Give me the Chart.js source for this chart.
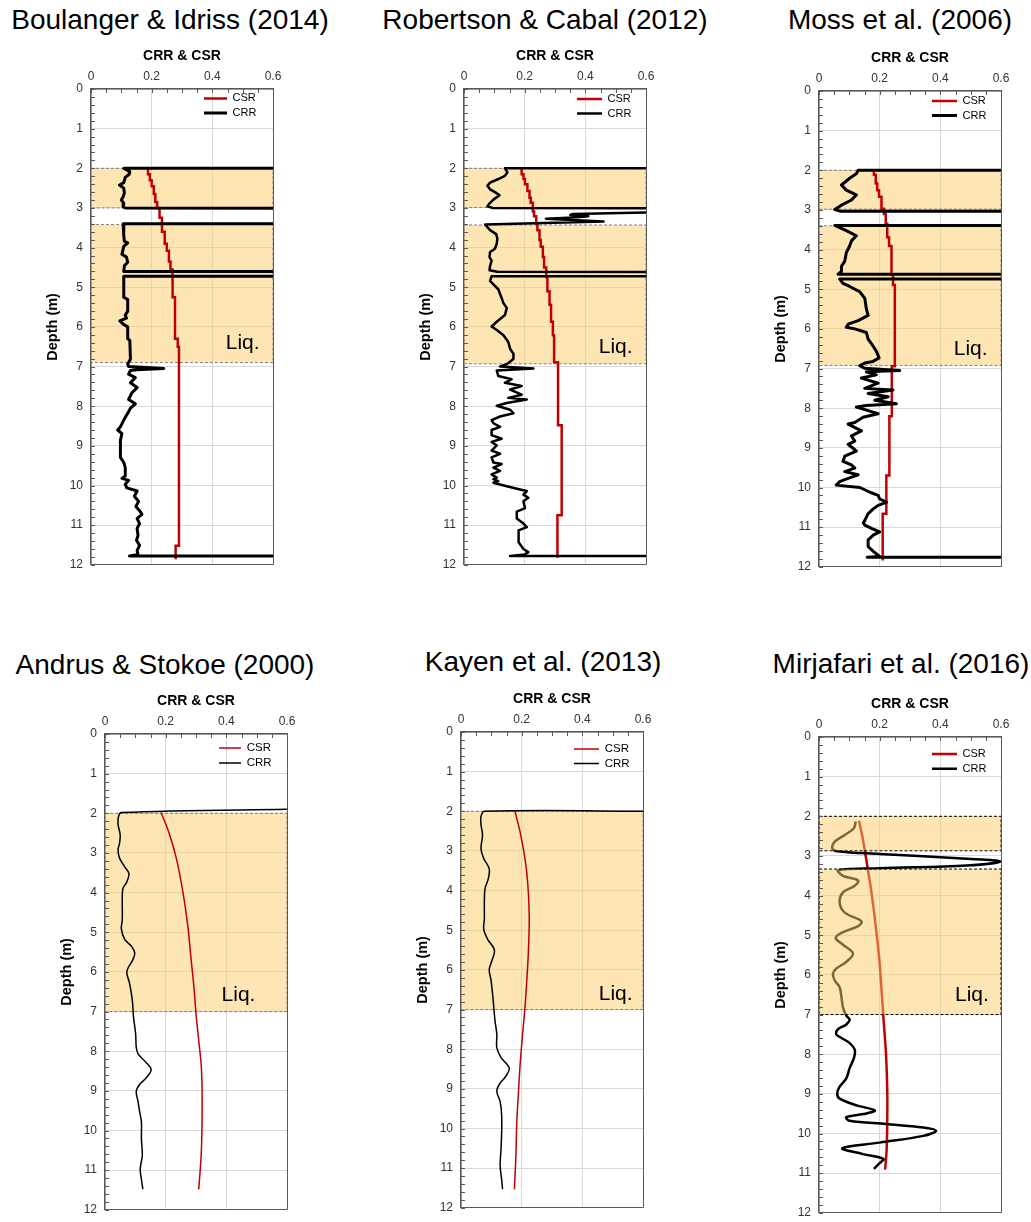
<!DOCTYPE html>
<html>
<head>
<meta charset="utf-8">
<script src="https://cdn.jsdelivr.net/npm/chart.js@4.4.1/dist/chart.umd.min.js"></script>
<style>
html,body{margin:0;padding:0;background:#fff;overflow:hidden;width:1031px;height:1222px;}
.title{position:absolute;font-family:'Liberation Sans',Arial,Helvetica,sans-serif;font-size:28px;line-height:28px;color:#000;white-space:nowrap;transform:translateX(-50%);}
.panel{position:absolute;}
.panel canvas{display:block;}
</style>
</head>
<body>
<script>
// ---------------- DATA ----------------
const OFF = 2; // CRR beyond the axis (non-liquefiable layer)
const seriesNames = ['CSR', 'CRR'];
const panelTitles = ['Boulanger & Idriss (2014)', 'Robertson & Cabal (2012)', 'Moss et al. (2006)',
                     'Andrus & Stokoe (2000)', 'Kayen et al. (2013)', 'Mirjafari et al. (2016)'];
const xAxisTitle = 'CRR & CSR';
const yAxisTitle = 'Depth (m)';
const liqText = 'Liq.';
const xTicks = [0, 0.2, 0.4, 0.6];
const yTicks = [0, 1, 2, 3, 4, 5, 6, 7, 8, 9, 10, 11, 12];

// [depth, value] pairs
const p1Csr = [[2.0,0.188],[2.15,0.194],[2.3,0.2],[2.45,0.207],[2.65,0.212],[2.85,0.218],[3.0,0.226],[3.25,0.234],[3.6,0.243],[3.9,0.25],[4.08,0.257],[4.35,0.262],[4.55,0.269],[5.25,0.277],[6.3,0.286],[6.5,0.29],[11.52,0.279],[11.86,0.279]];
const p1Crr = [[2.0,OFF],[2.0,0.108],[2.08,0.128],[2.15,0.126],[2.23,0.113],[2.36,0.108],[2.42,0.094],[2.5,0.108],[2.62,0.11],[2.72,0.106],[2.8,0.1],[2.88,0.108],[2.97,0.106],[3.0,0.113],[3.02,OFF],
  [3.4,OFF],[3.4,0.106],[3.7,0.108],[3.84,0.11],[3.88,0.121],[3.97,0.108],[4.17,0.102],[4.24,0.117],[4.37,0.121],[4.46,0.11],[4.6,0.108],[4.62,OFF],
  [4.72,OFF],[4.72,0.108],[5.25,0.108],[5.31,0.121],[5.61,0.121],[5.7,0.113],[5.78,0.117],[5.85,0.095],[5.94,0.108],[6.0,0.121],[6.3,0.121],[6.34,0.128],[6.81,0.13],[6.94,0.121],[7.0,0.124],[7.05,0.24],[7.08,0.15],[7.1,0.13],
  [7.19,0.124],[7.28,0.146],[7.41,0.13],[7.53,0.152],[7.66,0.135],[7.83,0.124],[7.94,0.146],[8.05,0.13],[8.18,0.121],[8.35,0.108],[8.52,0.097],[8.6,0.088],[8.69,0.102],[8.86,0.097],[9.29,0.097],[9.42,0.108],[9.55,0.113],[9.76,0.113],[9.82,0.102],[9.87,0.124],[9.97,0.113],[10.06,0.118],
  [10.14,0.152],[10.27,0.143],[10.4,0.157],[10.53,0.148],[10.66,0.163],[10.73,0.168],[10.83,0.152],[10.96,0.16],[11.08,0.152],[11.26,0.155],[11.38,0.15],[11.51,0.16],[11.64,0.152],[11.74,0.155],[11.78,0.127],[11.78,OFF]];
const p1Bands = [[2.0,3.0],[3.42,6.9]];

const p2Csr = [[2.0,0.19],[2.15,0.196],[2.27,0.201],[2.4,0.209],[2.57,0.216],[2.74,0.22],[2.87,0.227],[3.09,0.231],[3.21,0.238],[3.39,0.242],[3.56,0.249],[3.81,0.253],[3.98,0.26],[4.24,0.264],[4.5,0.271],[4.75,0.275],[5.1,0.282],[5.44,0.287],[5.87,0.293],[6.21,0.297],[6.89,0.31],[8.48,0.322],[10.75,0.308],[11.82,0.308]];
const p2Crr = [[2.0,OFF],[2.0,0.135],[2.1,0.143],[2.19,0.135],[2.27,0.113],[2.36,0.086],[2.44,0.077],[2.53,0.086],[2.62,0.106],[2.68,0.117],[2.79,0.097],[2.87,0.086],[2.96,0.077],[3.0,0.095],[3.04,OFF],[3.09,0.75],
  [3.15,0.36],[3.18,0.35],[3.21,0.41],[3.24,0.36],[3.27,0.27],[3.34,0.46],[3.42,0.07],[3.56,0.086],[3.66,0.106],[3.77,0.11],[3.9,0.108],[4.03,0.102],[4.11,0.086],[4.24,0.084],[4.33,0.091],[4.46,0.086],[4.57,0.084],[4.61,0.11],[4.63,OFF],
  [4.72,OFF],[4.72,0.091],[4.84,0.086],[4.93,0.097],[5.05,0.113],[5.27,0.124],[5.4,0.13],[5.52,0.141],[5.7,0.135],[5.87,0.108],[5.99,0.091],[6.08,0.108],[6.21,0.13],[6.38,0.146],[6.55,0.152],[6.68,0.163],[6.81,0.163],[6.94,0.141],[7.0,0.119],[7.05,0.229],[7.1,0.108],
  [7.24,0.113],[7.32,0.157],[7.41,0.135],[7.49,0.19],[7.58,0.152],[7.71,0.19],[7.79,0.146],[7.83,0.207],[7.92,0.141],[7.99,0.108],[8.09,0.152],[8.18,0.163],[8.26,0.119],[8.35,0.091],[8.43,0.097],[8.52,0.119],[8.6,0.091],[8.73,0.091],[8.82,0.124],[8.9,0.091],[8.99,0.108],[9.12,0.091],[9.2,0.119],[9.29,0.091],[9.42,0.097],[9.46,0.124],[9.55,0.097],[9.63,0.119],[9.72,0.091],[9.8,0.108],[9.84,0.097],[9.89,0.113],[9.93,0.097],
  [10.02,0.141],[10.1,0.185],[10.14,0.207],[10.23,0.196],[10.31,0.212],[10.4,0.196],[10.57,0.201],[10.66,0.174],[10.83,0.174],[10.96,0.196],[11.05,0.207],[11.13,0.18],[11.43,0.18],[11.6,0.196],[11.68,0.212],[11.74,0.2],[11.78,0.152],[11.78,OFF]];
const p2Bands = [[2.0,2.99],[3.43,6.93]];

const p3Csr = [[2.0,0.181],[2.11,0.187],[2.33,0.192],[2.5,0.198],[2.67,0.206],[2.97,0.214],[3.1,0.22],[3.35,0.225],[3.69,0.231],[3.91,0.239],[4.63,0.244],[4.89,0.25],[6.94,0.24],[8.2,0.232],[9.7,0.222],[10.66,0.21],[11.84,0.21]];
const p3Crr = [[2.0,OFF],[2.0,0.129],[2.09,0.123],[2.2,0.101],[2.37,0.074],[2.5,0.09],[2.62,0.123],[2.75,0.107],[2.88,0.074],[2.99,0.052],[3.03,0.07],[3.03,OFF],
  [3.39,OFF],[3.39,0.052],[3.52,0.09],[3.65,0.123],[3.78,0.107],[3.91,0.101],[4.08,0.09],[4.29,0.085],[4.42,0.074],[4.55,0.074],[4.62,0.063],[4.63,OFF],
  [4.74,OFF],[4.74,0.068],[4.85,0.079],[4.93,0.101],[5.06,0.134],[5.23,0.151],[5.49,0.156],[5.66,0.162],[5.79,0.129],[5.88,0.096],[5.96,0.09],[6.0,0.118],[6.09,0.156],[6.26,0.162],[6.43,0.178],[6.56,0.189],[6.73,0.198],[6.82,0.178],[6.86,0.151],[6.93,0.134],[6.99,0.15],[7.05,0.266],[7.08,0.156],
  [7.16,0.189],[7.24,0.14],[7.37,0.195],[7.5,0.151],[7.54,0.244],[7.63,0.162],[7.71,0.228],[7.8,0.184],[7.89,0.255],[7.93,0.156],[7.97,0.123],[8.06,0.162],[8.14,0.195],[8.23,0.145],[8.36,0.118],[8.4,0.096],[8.57,0.14],[8.7,0.107],[8.83,0.118],[8.91,0.096],[9.08,0.123],[9.21,0.085],[9.34,0.079],[9.43,0.107],[9.51,0.118],[9.6,0.085],[9.68,0.129],[9.77,0.096],[9.85,0.068],[9.94,0.057],
  [10.0,0.135],[10.12,0.168],[10.2,0.195],[10.29,0.2],[10.37,0.223],[10.45,0.195],[10.54,0.179],[10.66,0.162],[10.83,0.151],[10.89,0.146],[10.95,0.151],[11.03,0.173],[11.12,0.2],[11.2,0.179],[11.32,0.162],[11.49,0.162],[11.61,0.179],[11.74,0.2],[11.76,0.159],[11.76,OFF]];
const p3Bands = [[2.0,2.98],[3.4,6.92]];

const p4Csr = [[1.98,0.185],[2.54,0.213],[3.13,0.235],[3.99,0.257],[4.84,0.273],[5.69,0.284],[6.37,0.293],[7.05,0.3],[7.73,0.309],[8.33,0.317],[8.93,0.32],[9.78,0.32],[10.63,0.317],[11.48,0.309]];
const p4Crr = [[1.893,0.65],[1.98,0.054],[2.07,0.045],[2.28,0.043],[2.54,0.05],[2.75,0.048],[2.92,0.043],[3.13,0.048],[3.35,0.065],[3.52,0.079],[3.73,0.072],[3.9,0.059],[4.24,0.057],[4.67,0.057],[4.92,0.054],[5.18,0.065],[5.35,0.087],[5.52,0.098],[5.69,0.092],[5.9,0.076],[6.03,0.072],[6.29,0.081],[6.71,0.09],[7.14,0.094],[7.56,0.101],[7.9,0.103],[8.07,0.109],[8.25,0.131],[8.46,0.152],[8.67,0.136],[8.84,0.114],[9.01,0.103],[9.27,0.109],[9.52,0.114],[9.78,0.12],[10.2,0.12],[10.63,0.123],[10.97,0.116],[11.23,0.12],[11.48,0.125]];
const p4Bands = [[2.0,7.0]];

const p5Csr = [[2.0,0.178],[2.6,0.197],[3.36,0.214],[4.04,0.222],[4.72,0.225],[5.57,0.222],[6.26,0.217],[6.94,0.211],[7.62,0.203],[8.38,0.195],[9.15,0.189],[9.83,0.184],[10.68,0.181],[11.53,0.176]];
const p5Crr = [[2.0,0.65],[2.0,0.077],[2.13,0.066],[2.34,0.066],[2.6,0.071],[2.94,0.066],[3.19,0.075],[3.45,0.093],[3.7,0.09],[3.96,0.079],[4.3,0.077],[4.72,0.077],[4.98,0.075],[5.23,0.088],[5.45,0.108],[5.57,0.11],[5.83,0.099],[6.0,0.093],[6.26,0.099],[6.6,0.104],[6.94,0.108],[7.28,0.112],[7.62,0.118],[7.96,0.118],[8.21,0.132],[8.47,0.159],[8.68,0.148],[8.89,0.126],[9.06,0.118],[9.32,0.129],[9.66,0.134],[10.09,0.134],[10.51,0.132],[10.94,0.129],[11.28,0.134],[11.53,0.137]];
const p5Bands = [[2.0,7.0]];

const p6Csr = [[2.11,0.132],[2.64,0.146],[3.24,0.159],[3.92,0.173],[4.77,0.187],[5.63,0.199],[6.48,0.207],[7.25,0.214],[8.01,0.221],[8.87,0.225],[9.72,0.225],[10.4,0.223],[10.91,0.218]];
const p6Crr = [[2.13,0.121],[2.3,0.115],[2.47,0.085],[2.64,0.052],[2.81,0.044],[2.88,0.06],[2.95,0.2],[3.07,0.487],[3.14,0.6],[3.24,0.487],[3.31,0.2],[3.36,0.063],[3.5,0.079],[3.62,0.129],[3.75,0.118],[3.92,0.079],[4.18,0.068],[4.43,0.085],[4.65,0.14],[4.77,0.129],[4.94,0.074],[5.07,0.055],[5.24,0.079],[5.46,0.112],[5.67,0.09],[5.84,0.057],[5.97,0.046],[6.14,0.052],[6.31,0.068],[6.56,0.074],[6.82,0.079],[7.03,0.09],[7.12,0.101],[7.25,0.09],[7.37,0.063],[7.5,0.057],[7.59,0.074],[7.72,0.101],[7.89,0.118],[8.1,0.115],[8.35,0.101],[8.61,0.09],[8.82,0.068],[8.99,0.06],[9.12,0.068],[9.29,0.124],[9.42,0.184],[9.51,0.146],[9.59,0.09],[9.68,0.101],[9.76,0.223],[9.85,0.344],[9.93,0.386],[10.06,0.344],[10.23,0.2],[10.37,0.077],[10.52,0.145],[10.64,0.212],[10.76,0.198],[10.89,0.181]];
const p6Bands = [[2.0,2.87],[3.33,7.0]];

// ---------------- STYLE / LAYOUT ----------------
const FONT = "'Liberation Sans', Arial, Helvetica, sans-serif";
Chart.defaults.font.family = FONT;
const X_MIN = 0, X_MAX = 0.6, Y_MIN = 0, Y_MAX = 12, X_MINOR = 0.05, Y_MINOR = 0.2;
const AXIS_COLOR = '#595959', GRID_COLOR = '#d9d9d9';
const CSR_COLOR = '#c00000', CRR_COLOR = '#000000';
const BAND_FILL = 'rgba(251,203,105,0.5)';
const AX_W = 47, PAD_L = 3, AX_H = 41, PAD_T = 1, PAD_R = 14, PAD_B = 8, PLOT_W = 182, PLOT_H = 483;

const panels = [
  {title: panelTitles[0], tx: 170, ty: 6, px: 91, py: 89, csr: p1Csr, crr: p1Crr, bands: p1Bands, stepped: true, tension: 0, lwCsr: 2.5, lwCrr: 3, bandTop: false, edge: '#7f7f7f', liq: [0.5, 6.42], lg: {font: 11, y: 9.4, end: 46, pad: 3.6, w: 23}},
  {title: panelTitles[1], tx: 545, ty: 6, px: 464, py: 89, csr: p2Csr, crr: p2Crr, bands: p2Bands, stepped: true, tension: 0, lwCsr: 2.5, lwCrr: 2.5, bandTop: false, edge: '#7f7f7f', liq: [0.5, 6.5], lg: {font: 11, y: 10, end: 44, pad: 3.6, w: 25}},
  {title: panelTitles[2], tx: 900, ty: 6, px: 819, py: 91, csr: p3Csr, crr: p3Crr, bands: p3Bands, stepped: true, tension: 0, lwCsr: 2.5, lwCrr: 3, bandTop: false, edge: '#7f7f7f', liq: [0.5, 6.52], lg: {font: 11, y: 10, end: 44, pad: 3.6, w: 25}},
  {title: panelTitles[3], tx: 165, ty: 651, px: 105, py: 734, csr: p4Csr, crr: p4Crr, bands: p4Bands, stepped: false, tension: 0.35, lwCsr: 1.5, lwCrr: 1.5, bandTop: false, edge: '#7f7f7f', liq: [0.44, 6.58], lg: {font: 11.5, y: 14, end: 46, pad: 3.5, w: 22}},
  {title: panelTitles[4], tx: 543, ty: 648, px: 461, py: 732, csr: p5Csr, crr: p5Crr, bands: p5Bands, stepped: false, tension: 0.35, lwCsr: 1.5, lwCrr: 1.5, bandTop: false, edge: '#7f7f7f', liq: [0.51, 6.62], lg: {font: 11.5, y: 17, end: 44, pad: 3, w: 25}},
  {title: panelTitles[5], tx: 901, ty: 650, px: 819, py: 737, csr: p6Csr, crr: p6Crr, bands: p6Bands, stepped: false, tension: 0.35, lwCsr: 2.5, lwCrr: 2.5, bandTop: true, edge: '#000000', liq: [0.504, 6.52], lg: {font: 11, y: 17, end: 44, pad: 3.7, w: 25}}
];

function pts(pairs) { return pairs.map(p => ({x: p[1], y: p[0]})); }
function bandPts(b) { return pts([[b[0], X_MIN], [b[0], X_MAX], [b[1], X_MAX], [b[1], X_MIN], [b[0], X_MIN]]); }

const decor = {
  id: 'decor',
  beforeDraw(chart, args, o) {
    const lg = chart.legend, ca = chart.chartArea;
    if (!lg) return;
    const w = lg.width, h = lg.height;
    lg.left = ca.right - o.end - o.w - o.pad;
    lg.right = lg.left + w;
    lg.top = ca.top + o.y - o.font / 2 - o.pad;
    lg.bottom = lg.top + h;
  },
  afterDatasetsDraw(chart, args, o) {
    const {ctx, chartArea: ca, scales: {x, y}} = chart;
    ctx.save();
    ctx.strokeStyle = AXIS_COLOR;
    ctx.lineWidth = 1;
    ctx.beginPath();
    for (let i = 0; X_MIN + i * X_MINOR <= X_MAX + 1e-9; i++) {
      const px = Math.round(x.getPixelForValue(X_MIN + i * X_MINOR)) + 0.5;
      ctx.moveTo(px, ca.top); ctx.lineTo(px, ca.top + 4);
    }
    for (let i = 0; Y_MIN + i * Y_MINOR <= Y_MAX + 1e-9; i++) {
      const py = Math.round(y.getPixelForValue(Y_MIN + i * Y_MINOR)) + 0.5;
      ctx.moveTo(ca.left, py); ctx.lineTo(ca.left + 4, py);
    }
    ctx.stroke();
    ctx.fillStyle = '#000';
    ctx.font = '21px ' + FONT;
    ctx.textAlign = 'center';
    ctx.textBaseline = 'middle';
    ctx.fillText(liqText, x.getPixelForValue(o.liqX), y.getPixelForValue(o.liqY));
    ctx.restore();
  }
};

function makePanel(p) {
  const t = document.createElement('div');
  t.className = 'title';
  t.textContent = p.title;
  t.style.left = p.tx + 'px';
  t.style.top = p.ty + 'px';
  document.body.appendChild(t);

  const W = PAD_L + AX_W + PLOT_W + PAD_R, H = PAD_T + AX_H + PLOT_H + PAD_B;
  const div = document.createElement('div');
  div.className = 'panel';
  div.style.left = (p.px - PAD_L - AX_W) + 'px';
  div.style.top = (p.py - PAD_T - AX_H) + 'px';
  div.style.width = W + 'px';
  div.style.height = H + 'px';
  const cv = document.createElement('canvas');
  cv.width = W; cv.height = H;
  cv.style.width = W + 'px'; cv.style.height = H + 'px';
  div.appendChild(cv);
  document.body.appendChild(div);

  const datasets = [
    {label: seriesNames[0], data: pts(p.csr), borderColor: CSR_COLOR, backgroundColor: CSR_COLOR, borderWidth: p.lwCsr,
     showLine: true, pointRadius: 0, stepped: p.stepped ? 'after' : false, tension: p.tension, order: 1, fill: false},
    {label: seriesNames[1], data: pts(p.crr), borderColor: CRR_COLOR, backgroundColor: CRR_COLOR, borderWidth: p.lwCrr,
     showLine: true, pointRadius: 0, tension: p.tension, order: 0, fill: false, borderJoinStyle: 'round'}
  ];
  p.bands.forEach(b => datasets.push({
    label: 'band', data: bandPts(b), showLine: true, pointRadius: 0, borderColor: p.edge, borderWidth: 1,
    borderDash: [3, 2], backgroundColor: BAND_FILL, fill: 'shape', order: p.bandTop ? -1 : 5, tension: 0
  }));

  const gridColor = (max) => (ctx) => (ctx.tick && Math.abs(ctx.tick.value - max) < 1e-9) ? AXIS_COLOR : GRID_COLOR;

  new Chart(cv, {
    type: 'scatter',
    data: {datasets},
    plugins: [decor],
    options: {
      responsive: false,
      animation: false,
      events: [],
      layout: {padding: {left: PAD_L, top: PAD_T, right: PAD_R, bottom: PAD_B}},
      scales: {
        x: {
          type: 'linear', position: 'top', min: X_MIN, max: X_MAX,
          afterBuildTicks: s => { s.ticks = xTicks.map(v => ({value: v})); },
          ticks: {padding: 5, color: '#333', font: {size: 12}, maxRotation: 0, autoSkip: false},
          grid: {color: gridColor(X_MAX), drawTicks: false, lineWidth: 1},
          border: {color: AXIS_COLOR, width: 1.5},
          title: {display: true, text: xAxisTitle, color: '#000', font: {size: 14, weight: 'bold'}, padding: 0},
          afterFit: s => { s.height = AX_H; }
        },
        y: {
          type: 'linear', reverse: true, min: Y_MIN, max: Y_MAX,
          afterBuildTicks: s => { s.ticks = yTicks.map(v => ({value: v})); },
          ticks: {padding: 8, color: '#333', font: {size: 12}, autoSkip: false},
          grid: {color: gridColor(Y_MAX), drawTicks: false, lineWidth: 1},
          border: {color: AXIS_COLOR, width: 1.5},
          title: {display: true, text: yAxisTitle, color: '#000', font: {size: 14.5, weight: 'bold'}, padding: 0},
          afterFit: s => { s.width = AX_W; }
        }
      },
      plugins: {
        tooltip: {enabled: false},
        legend: {
          position: 'chartArea', align: 'start',
          labels: {
            usePointStyle: true, pointStyle: 'line', pointStyleWidth: p.lg.w, padding: p.lg.pad,
            color: '#000', font: {size: p.lg.font},
            filter: item => seriesNames.includes(item.text),
            sort: (a, b) => seriesNames.indexOf(a.text) - seriesNames.indexOf(b.text)
          }
        },
        decor: {end: p.lg.end, w: p.lg.w, y: p.lg.y, font: p.lg.font, pad: p.lg.pad, liqX: p.liq[0], liqY: p.liq[1]}
      }
    }
  });
}

panels.forEach(makePanel);
</script>
</body>
</html>
